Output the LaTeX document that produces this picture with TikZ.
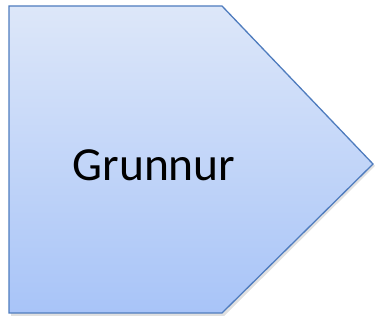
\documentclass[tikz,border=0pt]{standalone}
\usepackage{fontspec}
\setmainfont{Carlito}
\definecolor{topc}{HTML}{DDE7F9}
\definecolor{botc}{HTML}{A8C4F8}
\definecolor{edgec}{HTML}{4F7CBE}
\begin{document}
\begin{tikzpicture}[x=1pt,y=1pt,
  shapestyle/.style={draw=edgec, line width=1.3pt, top color=topc, bottom color=botc, line join=miter},
  labelstyle/.style={font=\fontsize{47.5}{52}\selectfont, text=black}]
\useasboundingbox (0,0) rectangle (375,321);
\fill[black!12] (11,313) -- (224,313) -- (375,155) -- (224,5) -- (11,5) -- cycle;
\path[shapestyle] (9,315) -- (222,315) -- (373,157) -- (222,8) -- (9,8) -- cycle;
\node[labelstyle] (lbl) at (154,156) {Grunnur};
\end{tikzpicture}
\end{document}
